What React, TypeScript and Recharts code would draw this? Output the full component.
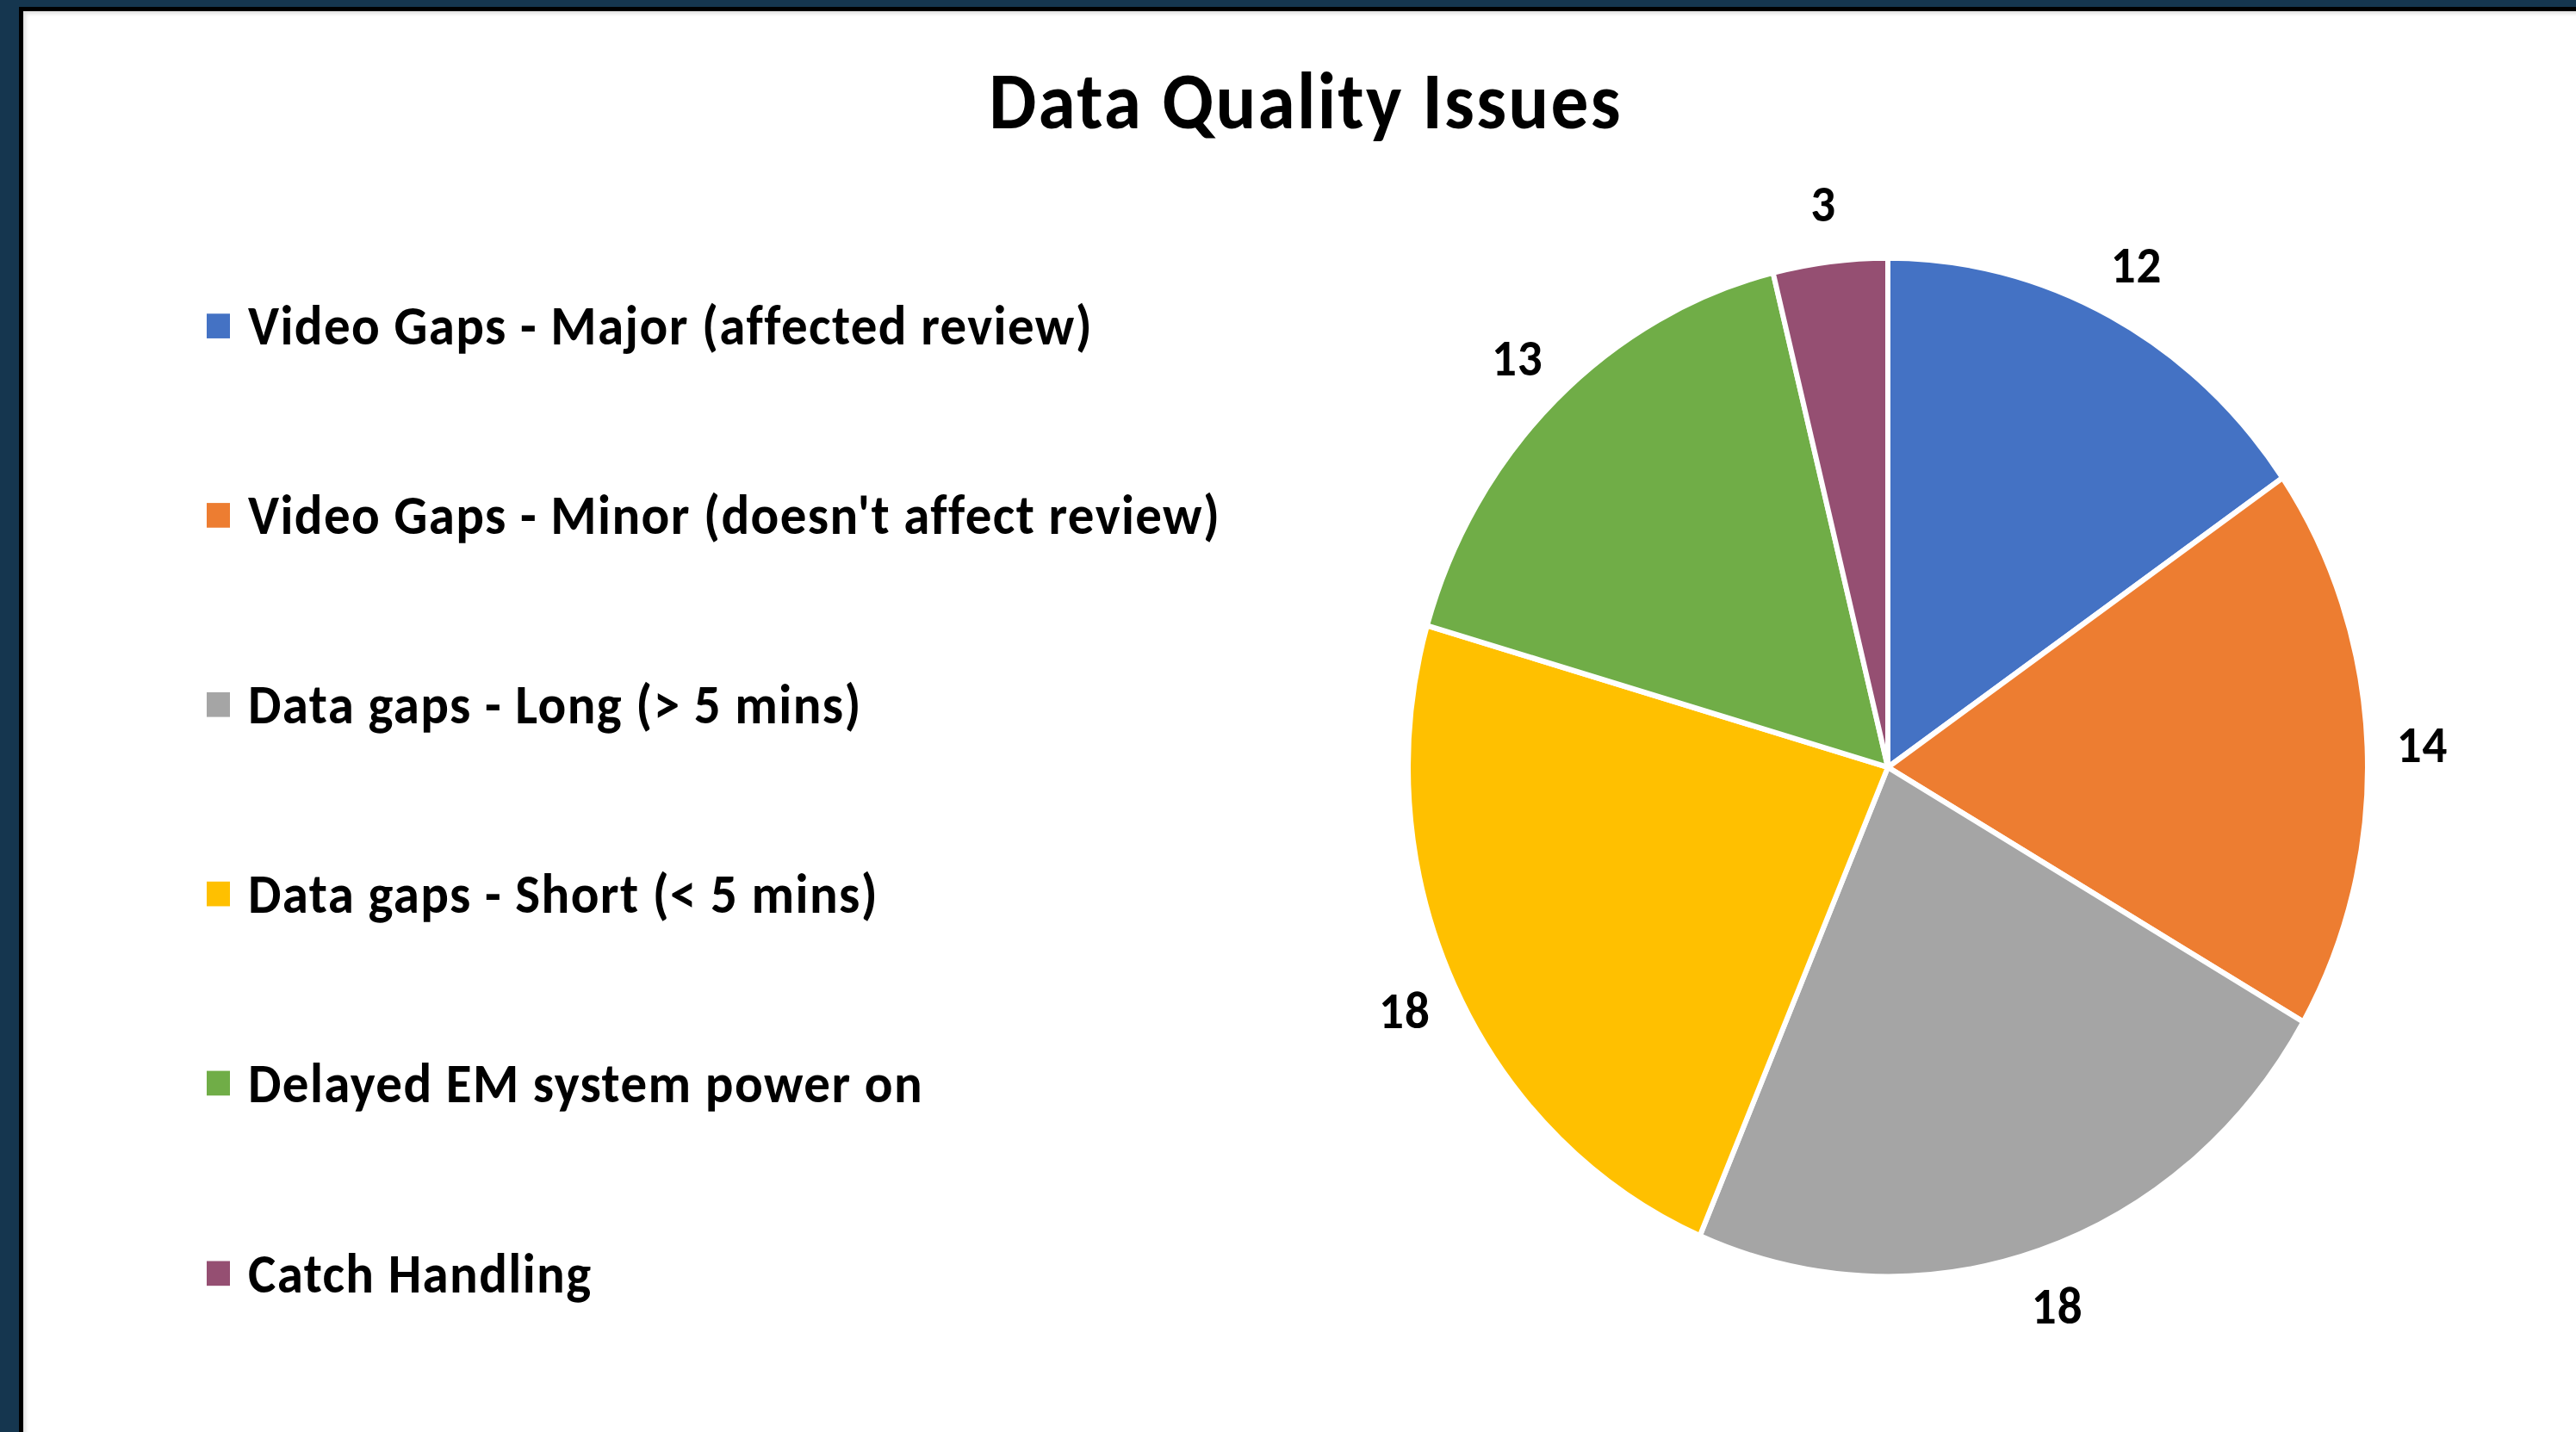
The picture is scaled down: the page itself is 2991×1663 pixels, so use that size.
import React from "react";
import { PieChart, Pie, Cell } from "recharts";

const CATEGORIES = [
  "Video Gaps - Major (affected review)",
  "Video Gaps - Minor (doesn't affect review)",
  "Data gaps - Long (> 5 mins)",
  "Data gaps - Short (< 5 mins)",
  "Delayed EM system power on",
  "Catch Handling",
];
const VALUES = [12, 14, 18, 18, 13, 3];
const COLORS = ["#4472C4", "#ED7D31", "#A5A5A5", "#FFC000", "#70AD47", "#954F72"];
const TITLE = "Data Quality Issues";

const data = CATEGORIES.map((name, i) => ({ name, value: VALUES[i] }));

// the source image is stretched a bit vertically, so draw at 1:1 and stretch
const W = 2991;
const H = 1663;
const SY = 1.062;
const INNER_H = Math.round(H / SY);

const FONT = "Carlito, Lato, 'Open Sans', sans-serif";
const RAD = Math.PI / 180;

const renderLabel = ({ cx, cy, midAngle, outerRadius, value }: any) => {
  const r = outerRadius * 1.115;
  const x = cx + r * Math.cos(-midAngle * RAD);
  const y = cy + r * Math.sin(-midAngle * RAD);
  return (
    <text
      x={x}
      y={y}
      textAnchor="middle"
      dominantBaseline="central"
      fill="#000"
      fontFamily={FONT}
      fontWeight={700}
      fontSize={57}
      letterSpacing={1}
    >
      {value}
    </text>
  );
};

const LegendList = () => (
  <div style={{ position: "absolute", left: 0, top: 0 }}>
    {CATEGORIES.map((name, i) => (
      <div
        key={name}
        style={{
          position: "absolute",
          left: 240,
          top: 356 + i * 207.2 - 40,
          height: 80,
          display: "flex",
          alignItems: "center",
          whiteSpace: "nowrap",
        }}
      >
        <span style={{ width: 27, height: 27, background: COLORS[i], display: "inline-block" }} />
        <span
          style={{
            marginLeft: 21,
            fontFamily: FONT,
            fontWeight: 700,
            fontSize: 61,
            lineHeight: 1,
            letterSpacing: 1.4,
            color: "#000",
          }}
        >
          {name}
        </span>
      </div>
    ))}
  </div>
);

export default function App() {
  return (
    <div style={{ position: "absolute", left: 0, top: 0, width: W, height: H, background: "#15364F", overflow: "hidden" }}>
      <div
        style={{
          position: "absolute",
          left: 22,
          top: 8,
          width: W,
          height: H,
          background: "#fff",
          borderLeft: "5px solid #000",
          borderTop: "5px solid #000",
          boxShadow: "inset 3px 3px 4px rgba(0,0,0,0.12)",
        }}
      />
      <div
        style={{
          position: "absolute",
          left: 0,
          top: 0,
          width: W,
          height: INNER_H,
          transform: `scaleY(${SY})`,
          transformOrigin: "0 0",
        }}
      >
        <div
          style={{
            position: "absolute",
            left: 1516 - 1000,
            width: 2000,
            top: 67,
            textAlign: "center",
            fontFamily: FONT,
            fontWeight: 700,
            fontSize: 87.5,
            lineHeight: 1,
            letterSpacing: 2.2,
            color: "#000",
          }}
        >
          {TITLE}
        </div>
        <LegendList />
        <div style={{ position: "absolute", left: 0, top: 0 }}>
          <PieChart width={W} height={INNER_H} margin={{ top: 0, right: 0, bottom: 0, left: 0 }}>
            <Pie
              data={data}
              dataKey="value"
              nameKey="name"
              cx={2192}
              cy={839}
              outerRadius={557}
              startAngle={90}
              endAngle={-270}
              stroke="#fff"
              strokeWidth={6}
              label={renderLabel}
              labelLine={false}
              isAnimationActive={false}
            >
              {data.map((d, i) => (
                <Cell key={d.name} fill={COLORS[i]} />
              ))}
            </Pie>
          </PieChart>
        </div>
      </div>
    </div>
  );
}
